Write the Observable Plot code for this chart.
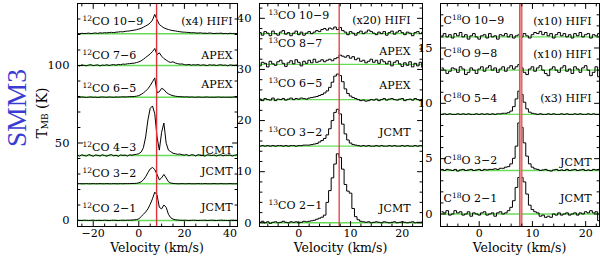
<!DOCTYPE html>
<html><head><meta charset="utf-8">
<script src="https://cdn.jsdelivr.net/npm/d3@7"></script>
<script src="https://cdn.jsdelivr.net/npm/@observablehq/plot@0.6"></script>
<style>
body{margin:0;background:#fff;}
#fig{position:relative;width:600px;height:258px;overflow:hidden;background:#fff;font-family:"DejaVu Serif",serif;}
.vert{position:absolute;writing-mode:vertical-rl;white-space:nowrap;}
#smm3{left:16.5px;top:108px;transform:translate(-50%,-50%) rotate(180deg);color:#3b3bd4;font-family:"Liberation Serif",serif;font-size:27.5px;line-height:1;}
#ylab{left:42px;top:113px;transform:translate(-50%,-50%) rotate(180deg);font-size:14px;line-height:1;}
#ylab sub{font-size:9px;vertical-align:-3px;}
.xlab{position:absolute;top:242px;font-size:12.5px;white-space:nowrap;line-height:12px;transform:translateX(-50%);}
</style></head><body><div id="fig"><div id="smm3" class="vert">SMM3</div><div id="ylab" class="vert">T<sub>MB</sub> (K)</div></div>
<script>
const green = "#66dd55";
const redV = 7.8;
const xTitle = "Velocity (km/s)";

// ---------- Panel 1 : 12CO ----------
const v1 = [-27,-26,-25,-24,-23,-22,-21,-20,-19,-18,-17,-16,-15,-14,-13,-12,-11,-10,-9,-8,-7,-6,-5,-4,-3,-2,-1,0,1,2,3,4,5,6,7,8,9,10,11,12,13,14,15,16,17,18,19,20,21,22,23,24,25,26,27,28,29,30,31,32,33,34,35,36,37,38,39,40,41,42,43];
const co12_10_9 = [0.2,0,0.3,0.1,0.2,0.4,0.1,0.3,0.5,0.2,0.6,0.4,0.7,0.5,0.8,0.9,0.7,1,
  1.1,1.3,1.2,1.5,1.7,1.8,2.1,2.3,2.6,3,3.5,4.2,5,5.8,7,8.8,12.5,9,6,4.8,3.8,3.2,2.7,2.3,2,1.8,1.5,1.3,1.1,1.0,0.9,0.8,0.6,0.7,
  0.5,0.4,0.6,0.3,0.4,0.2,0.5,0.3,0.1,0.3,0.2,0.4,0.1,0.2,0,0.3,0.1,0.2,0.1];
const co12_7_6 = [0.2,-0.3,0.4,0.1,-0.2,0.3,0.5,-0.1,0.2,0.4,-0.3,0.3,0.1,0.5,0,0.4,0.6,0.2,0.7,0.5,0.9,0.8,1.1,
  1.2,1.4,1.5,1.9,2.3,3,4,5.2,6.3,7.5,9,11,7,8.2,6,4.5,3.5,2.5,2,2.4,1.6,1.2,0.9,1,0.6,
  0.4,0.7,0.2,0.5,0.3,0.6,0.1,0.4,0.3,-0.1,0.5,0.2,0.4,0,0.3,0.5,0.1,0.3,-0.2,0.4,0.2,0.1,0.3];
const co12_6_5 = [0.1,0,0.2,0.1,-0.1,0.1,0.2,0,0.1,-0.1,0.1,0.2,0.1,0,0.2,0.1,0,0.2,0.1,0.2,0.3,0.2,0.3,0.4,0.4,
  0.5,0.7,1.1,1.8,2.8,4,5.5,7.5,10,12.5,3,3.5,5.8,5,3.2,2.2,1.5,1,0.7,0.5,0.4,
  0.3,0.2,0.3,0.1,0.2,0.1,0,0.2,0.1,0,0.1,0.2,0,0.1,0,0.1,0.2,0,0.1,0,0.1,0,0.1,0.2,0];
const co12_4_3 = [0.3,-0.4,0.5,0,-0.3,0.6,0.2,-0.5,0.4,0.1,-0.3,0.5,0,-0.4,0.3,0.6,-0.2,0.2,-0.5,0.4,0.1,0.3,-0.3,0.5,0.2,0.6,
  0.8,1.2,2.2,5,12,23,30.5,32,27,12,3.5,15,21,8,3.5,2.5,1.5,1.2,0.8,1,0.5,
  0.3,0.7,-0.2,0.5,0.4,-0.3,0.6,0.2,0.1,-0.4,0.5,0.3,0,0.4,-0.3,0.2,0.5,-0.2,0.3,0.1,0.4,-0.3,0.2,0.5];
const co12_3_2 = [0,0.1,0,0,0.1,0,0,0.1,0,0,0.1,0,0,0.1,0,0,0.1,0,0,0.1,0,0.1,0.1,0.1,0.2,0.2,
  0.3,0.6,1.2,2.5,4.5,7.2,9.6,10.5,9.2,6,2.5,3.8,6,3.8,1.3,0.5,0.2,0.1,
  0,0,0.1,0,0,0.1,0,0,0,0.1,0,0,0.1,0,0,0,0.1,0,0,0.1,0,0,0,0.1,0,0,0];
const co12_2_1 = [0.2,0.1,0,0.2,0.1,0,0.1,0.2,0,0.1,0.1,0,0.2,0.1,0,0.1,0.2,0.1,0,0.1,0.2,0.1,0.2,0.2,0.3,
  0.4,0.6,1,2.5,4,5.5,7.5,10.5,14,18.3,16.5,8.5,7.5,10,8.5,4,1.8,0.9,0.5,0.3,0.2,
  0.1,0.2,0.1,0,0.1,0.2,0.1,0,0.1,0.1,0.2,0,0.1,0.2,0.1,0,0.1,0.2,0.1,0.1,0,0.1,0.2,0.1,0.1];
const off12 = [120.5, 100, 79.5, 41.9, 23.7, 0];
const names12 = ["^12CO 10−9","^12CO 7−6","^12CO 6−5","^12CO 4−3","^12CO 3−2","^12CO 2−1"];
const nameY12 = [128.6, 106.5, 85, 47.3, 30.5, 7.5];
const inst12 = ["(x4) HIFI","APEX","APEX","JCMT","JCMT","JCMT"];
const instY12 = [128.6, 106.5, 87.5, 45.2, 31.8, 8.2];
const xMajor1 = [-20,0,20,40], xMinor1 = [-25,-15,-10,-5,5,10,15,25,30,35];
const yMajor1 = [0,50,100], yMinor1 = [10,20,30,40,60,70,80,90,110,120,130];

// ---------- Panel 2 : 13CO ----------
const v2 = [-7.5,-7,-6.5,-6,-5.5,-5,-4.5,-4,-3.5,-3,-2.5,-2,-1.5,-1,-0.5,0,0.5,1,1.5,2,2.5,3,3.5,4,4.5,5,5.5,6,6.5,7,7.5,8,8.5,9,9.5,10,10.5,11,11.5,12,12.5,13,13.5,14,14.5,15,15.5,16,16.5,17,17.5,18,18.5,19,19.5,20,20.5,21,21.5,22,22.5,23,23.5,24];
const co13_10_9 = [0.2,-0.3,0.4,0.1,-0.4,0.5,0,-0.3,0.3,0.6,-0.1,0.2,-0.4,0.1,0.5,-0.2,0.3,-0.3,0.1,0.4,0,0.3,0.6,0.4,0.8,1.0,0.7,1.1,0.9,1.3,0.8,1.2,0.6,0.3,-0.2,0.4,0.1,-0.3,0.2,0.5,0,0.3,0.7,0.4,0.1,-0.2,0.3,0,0.4,-0.3,0.2,0.5,-0.1,0.3,0.6,0.2,-0.2,0.3,0.1,-0.4,0.2,0.4,0,0.3];
const co13_8_7 = [-0.3,0.4,0.2,-0.5,0.6,0.1,-0.2,0.5,0.8,0.2,-0.4,0.3,0.7,0.1,0.9,0.4,-0.3,0.6,0.2,0.8,0.3,1.0,0.4,0.6,0.9,0.5,0.8,1.0,0.7,1.1,1.3,1.8,1.6,1.4,1.7,1.2,1.5,0.9,1.2,0.6,0.8,0.3,0.6,1.0,0.4,0.8,0.2,0.9,0.5,0.1,0.6,-0.3,0.4,0.7,0.1,-0.4,0.3,-0.2,0.5,-0.5,0.2,-0.3,0.4,-0.6];
const co13_6_5 = [0.1,-0.2,0.2,0,-0.1,0.3,-0.2,0.1,0,0.2,-0.1,0.1,0.3,0,0.2,0.1,0.3,0.2,0.1,0.3,
  0.4,0.5,0.6,0.8,1,1.3,1.7,2.4,3.4,4.6,5,4.7,3.5,2.1,1.2,0.7,0.4,0.2,
  0,-0.2,-0.1,-0.3,-0.2,0,-0.1,0.1,-0.2,0,0.2,-0.1,0.1,0.2,0,-0.1,0.1,0.2,-0.2,0,0.1,-0.1,0.2,0,-0.2,0.1];
const co13_3_2 = [0,0.1,0,0.1,0,0.1,0,0.1,0.1,0,0.1,0,0.1,0.1,0,0.1,0.1,0.2,0.2,0.2,0.3,
  0.4,0.5,0.8,1.1,1.5,2.2,3.4,5,6.6,7.2,6.3,4.3,2.4,1.2,0.6,0.3,
  0.2,0.1,0,0.1,0,0.1,0,0,0.1,0,0.1,0,0,0.1,0,0.1,0,0,0.1,0,0.1,0,0,0.1,0,0.1,0];
const co13_2_1 = [0.1,0.3,0,0.2,-0.1,0.1,0.2,0,0.1,0.3,0.1,0,0.2,0.1,0.2,0,0.1,0.3,0.2,0.3,
  0.4,0.5,0.7,0.9,1.1,1.5,4,6.3,8.8,11.5,13.5,12.8,10.5,7.5,6.2,5.8,2.8,1.2,0.6,0.3,
  0.2,0.1,0.2,0,0.1,0.2,0.1,0,0.2,0.1,0,0.1,0.2,0,0.1,0.2,0.1,0,0.1,0.2,0,0.1,0.1,0.2];
const off13 = [37, 31, 24.1, 15, 0];
const names13 = ["^13CO 10−9","^13CO 8−7","^13CO 6−5","^13CO 3−2","^13CO 2−1"];
const nameY13 = [40.6, 35, 27.2, 17.7, 3.4];
const inst13 = ["(x20) HIFI","APEX","APEX","JCMT","JCMT"];
const instY13 = [39.6, 33.6, 26.9, 17.7, 2.9];
const xMajor2 = [0,10,20], xMinor2 = [-6,-4,-2,2,4,6,8,12,14,16,18,22];
const yMajor2 = [0,10,20,30,40], yMinor2 = [2,4,6,8,12,14,16,18,22,24,26,28,32,34,36,38,42];

// ---------- Panel 3 : C18O ----------
const v3 = [-7,-6.5,-6,-5.5,-5,-4.5,-4,-3.5,-3,-2.5,-2,-1.5,-1,-0.5,0,0.5,1,1.5,2,2.5,3,3.5,4,4.5,5,5.5,6,6.5,7,7.5,8,8.5,9,9.5,10,10.5,11,11.5,12,12.5,13,13.5,14,14.5,15,15.5,16,16.5,17,17.5,18,18.5,19,19.5,20,20.5,21,21.5,22,22.5];
const c18o_10_9 = [0.1,0.3,0,0.2,-0.1,0.3,0.1,0.4,0,0.2,-0.2,0.1,0.3,0,-0.2,0.1,0.2,-0.1,0.3,0,0.1,-0.2,0.2,0.1,0.3,0,0.2,-0.1,0.1,0.2,0,0.3,0.1,-0.1,0.2,0.4,0.3,0.5,0.2,0.4,0.1,0.3,-0.1,0.2,0.4,0.1,0.3,0,0.2,-0.1,0.3,0.1,0.4,0,0.2,0.3,-0.1,0.2,0.1,0.3];
const c18o_9_8 = [0.2,0,-0.3,-0.1,0.2,0.1,-0.2,0.3,0.1,-0.4,-0.2,0.2,0,-0.3,0.1,0.3,-0.1,0.2,0.4,0,0.2,-0.2,0.1,0.3,-0.1,0.2,0.4,0.1,0.3,0.5,0.2,-0.2,-0.4,0.1,0.3,-0.1,0.2,0.4,0,-0.3,-0.5,0.1,0.3,0,-0.2,0.2,0.4,-0.1,0.1,-0.3,0.3,0.1,-0.2,0.2,0.4,0,-0.5,-0.2,0.3,-0.6];
const c18o_5_4 = [0,0.05,0,0.05,0,0,0.05,0,0.05,0,0.05,0,0,0.05,0,0.05,0,0.05,0,0.05,0,0.05,0.05,0.1,0.1,
  0.15,0.3,0.7,1.4,2.1,1.8,1.1,0.5,0.2,0.1,0.05,
  0,0.05,0,0,0.05,0,0.05,0,0,0.05,0,0.05,0,0,0.05,0,0.05,0,0,0.05,0,0.05,0,0];
const c18o_3_2 = [0.1,0,0.1,0.05,0,0.1,-0.05,0.05,0.1,0,0.05,0.1,0,0.05,0.1,0,0.1,0.05,0.1,0.1,0.15,0.1,0.2,0.2,0.3,
  0.35,0.6,1.1,2.2,4.3,3.9,2.5,1.3,0.6,0.3,0.15,
  0.1,0,0.05,0.1,0,-0.05,0.05,0.1,0,0.05,0,0.1,0,0.05,0.1,0,0.05,0.1,0,0.05,0,0.1,0.05,0.1];
const c18o_2_1 = [0.2,0.1,0.3,-0.1,0,0.3,0.1,0.2,-0.1,0,0.2,-0.2,0.1,0,-0.1,0.1,0.2,-0.1,0,0.1,
  -0.2,0.1,0.2,0,0.1,0.3,0.6,1.2,2.4,3.3,3.3,2.9,1.8,0.8,0.4,0.2,0.1,-0.2,-0.1,-0.3,
  -0.2,-0.3,0,-0.1,0.1,-0.1,0,0.1,-0.1,0,0.1,-0.1,0.1,0,0.2,0.1,0.3,0.1,0.2,-0.6];
const off18 = [16, 13, 9, 3.93, 0];
const names18 = ["C^18O 10−9","C^18O 9−8","C^18O 5−4","C^18O 3−2","C^18O 2−1"];
const nameY18 = [17.5, 14.5, 10.4, 4.8, 1.4];
const inst18 = ["(x10) HIFI","(x10) HIFI","(x3) HIFI","JCMT","JCMT"];
const instY18 = [17.4, 14.4, 10.4, 4.7, 1.4];
const xMajor3 = [0,10,20], xMinor3 = [-6,-4,-2,2,4,6,8,12,14,16,18,22];
const yMajor3 = [0,5,10,15], yMinor3 = [1,2,3,4,6,7,8,9,11,12,13,14,16,17,18];

const fmt = d => d < 0 ? "\u2212" + Math.abs(d) : String(d);
const tickShape = {draw(ctx, l) { ctx.moveTo(0, 0); ctx.lineTo(0, -l); }};

function supify(svg) {
  svg.querySelectorAll("text").forEach(t => {
    const s = t.textContent;
    if (!s.includes("^")) return;
    t.textContent = "";
    s.split(/\^(\d+)/).forEach((p, i) => {
      if (!p) return;
      const ts = document.createElementNS("http://www.w3.org/2000/svg", "tspan");
      ts.textContent = p;
      if (i % 2 === 1) { ts.setAttribute("font-size", "7.5"); ts.setAttribute("baseline-shift", "4"); }
      t.appendChild(ts);
    });
  });
}

function drawPanel(p) {
  const rows = [];
  p.spectra.forEach((s, k) => {
    if (s.length !== p.v.length) throw new Error(`length mismatch ${p.id} #${k}: ${s.length} vs ${p.v.length}`);
    s.forEach((t, i) => rows.push({id: k, v: p.v[i], t: t + p.offsets[k]}));
  });
  const within = a => a.filter(d => d > p.xDomain[0] && d < p.xDomain[1]);
  const tk = {shape: tickShape, anchor: "start", stroke: "black", strokeWidth: 1, fill: "none"};
  const L = p.names.map((s, i) => ({s, y: p.nameY[i]}));
  const R = p.inst.map((s, i) => ({s, y: p.instY[i]}));
  const marks = [
    Plot.ruleY(p.offsets, {y: d => d, stroke: green, strokeWidth: 1.4}),
    Plot.line(rows, {x: "v", y: "t", z: "id", curve: p.curve, stroke: "black", strokeWidth: 1, clip: true}),
    ...p.red.map(r => Plot.ruleX([redV], {x: d => d, stroke: r.c, strokeWidth: r.w})),
    Plot.frame({stroke: "black", strokeWidth: 1}),
    Plot.vector(within(p.xMajor), {x: d => d, frameAnchor: "bottom", rotate: 0, length: 5, ...tk}),
    Plot.vector(within(p.xMajor), {x: d => d, frameAnchor: "top", rotate: 180, length: 5, ...tk}),
    Plot.vector(within(p.xMinor), {x: d => d, frameAnchor: "bottom", rotate: 0, length: 2.5, ...tk}),
    Plot.vector(within(p.xMinor), {x: d => d, frameAnchor: "top", rotate: 180, length: 2.5, ...tk}),
    Plot.vector(p.yMajor, {y: d => d, frameAnchor: "left", rotate: 90, length: 5, ...tk}),
    Plot.vector(p.yMajor, {y: d => d, frameAnchor: "right", rotate: -90, length: 5, ...tk}),
    Plot.vector(p.yMinor, {y: d => d, frameAnchor: "left", rotate: 90, length: 2.5, ...tk}),
    Plot.vector(p.yMinor, {y: d => d, frameAnchor: "right", rotate: -90, length: 2.5, ...tk}),
    Plot.axisX({ticks: p.xMajor, tickSize: 0, tickPadding: 3, tickFormat: fmt, label: null, fontSize: 11}),
    Plot.axisY({ticks: p.yMajor, tickSize: 0, tickPadding: 8, tickFormat: fmt, label: null, fontSize: 11.5}),
    Plot.text(L, {y: "y", text: "s", frameAnchor: "left", textAnchor: "start", dx: p.dxL, fontSize: 11}),
    Plot.text(R, {y: "y", text: "s", frameAnchor: "right", textAnchor: "end", dx: p.dxR, fontSize: 11})
  ];
  const svg = Plot.plot({
    width: p.width, height: 258,
    marginLeft: p.ml, marginRight: p.mr, marginTop: 3, marginBottom: 32,
    x: {domain: p.xDomain}, y: {domain: p.yDomain},
    style: {fontFamily: "DejaVu Serif", fontSize: "11px", background: "transparent", color: "black"},
    marks
  });
  supify(svg);
  svg.style.position = "absolute";
  svg.style.left = p.left + "px";
  svg.style.top = "0px";
  svg.style.maxWidth = "none";
  const fig = document.getElementById("fig");
  fig.appendChild(svg);
  const lab = document.createElement("div");
  lab.className = "xlab";
  lab.textContent = xTitle;
  lab.style.left = (p.left + p.ml + (p.width - p.ml - p.mr) / 2) + "px";
  fig.appendChild(lab);
}

drawPanel({id: "12CO", left: 45, width: 194, ml: 32, mr: 2,
  xDomain: [-26.9, 43.3], yDomain: [-3.87, 140],
  v: v1, spectra: [co12_10_9, co12_7_6, co12_6_5, co12_4_3, co12_3_2, co12_2_1], offsets: off12,
  names: names12, nameY: nameY12, inst: inst12, instY: instY12, dxL: 5, dxR: -5,
  xMajor: xMajor1, xMinor: xMinor1, yMajor: yMajor1, yMinor: yMinor1, curve: "linear",
  red: [{c: "#e0303a", w: 1.4}]});
drawPanel({id: "13CO", left: 232, width: 192, ml: 27, mr: 2,
  xDomain: [-7.6, 23.9], yDomain: [-0.72, 42.9],
  v: v2, spectra: [co13_10_9, co13_8_7, co13_6_5, co13_3_2, co13_2_1], offsets: off13,
  names: names13, nameY: nameY13, inst: inst13, instY: instY13, dxL: 9, dxR: -12,
  xMajor: xMajor2, xMinor: xMinor2, yMajor: yMajor2, yMinor: yMinor2, curve: "step",
  red: [{c: "#e8454f", w: 1.4}]});
drawPanel({id: "C18O", left: 414, width: 186, ml: 26, mr: 1,
  xDomain: [-7.27, 22.6], yDomain: [-1.13, 19.02],
  v: v3, spectra: [c18o_10_9, c18o_9_8, c18o_5_4, c18o_3_2, c18o_2_1], offsets: off18,
  names: names18, nameY: nameY18, inst: inst18, instY: instY18, dxL: 3, dxR: -8,
  xMajor: xMajor3, xMinor: xMinor3, yMajor: yMajor3, yMinor: yMinor3, curve: "step",
  red: [{c: "#cc5555", w: 3.5}, {c: "#e88a8a", w: 1.6}]});
</script></body></html>
